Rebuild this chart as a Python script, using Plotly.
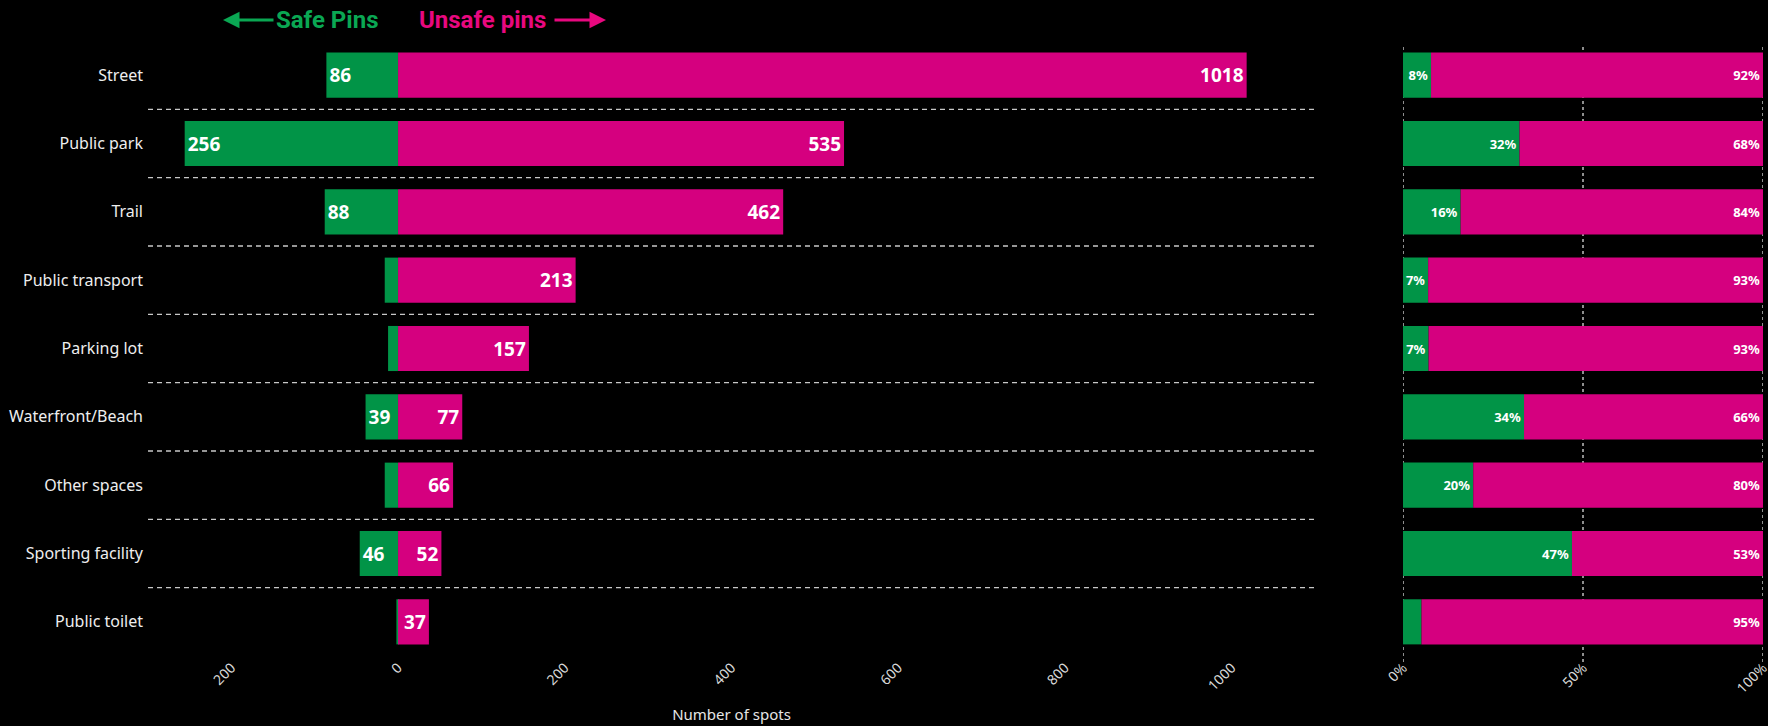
import plotly.graph_objects as go

categories = ["Street", "Public park", "Trail", "Public transport", "Parking lot",
              "Waterfront/Beach", "Other spaces", "Sporting facility", "Public toilet"]
safe = [86, 256, 88, 16, 12, 39, 16, 46, 2]
unsafe = [1018, 535, 462, 213, 157, 77, 66, 52, 37]
x_tickvals = [-200, 0, 200, 400, 600, 800, 1000]
x_ticktext = ["200", "0", "200", "400", "600", "800", "1000"]
pct_tickvals = [0, 50, 100]
pct_ticktext = ["0%", "50%", "100%"]

GREEN = "#019447"
PINK = "#D5007F"
GREEN_TXT = "#0AA753"
PINK_TXT = "#E8087F"
FONT = "Noto Sans"

safe_pct = [s / (s + u) * 100 for s, u in zip(safe, unsafe)]
unsafe_pct = [u / (s + u) * 100 for s, u in zip(safe, unsafe)]

fig = go.Figure()

fig.add_trace(go.Bar(
    y=categories, x=[-v for v in safe], orientation="h", marker=dict(color=GREEN, line_width=0),
    text=[str(v) if v >= 30 else "" for v in safe], textposition="inside", insidetextanchor="end",
    textangle=0, textfont=dict(family=FONT, size=19, color="white", weight="bold"),
    xaxis="x", yaxis="y", showlegend=False, hoverinfo="skip"))
fig.add_trace(go.Bar(
    y=categories, x=unsafe, orientation="h", marker=dict(color=PINK, line_width=0),
    text=[str(v) for v in unsafe], textposition="inside", insidetextanchor="end", textangle=0,
    textfont=dict(family=FONT, size=19, color="white", weight="bold"),
    xaxis="x", yaxis="y", showlegend=False, hoverinfo="skip"))

fig.add_trace(go.Bar(
    y=categories, x=safe_pct, orientation="h", marker=dict(color=GREEN, line_width=0),
    text=[f"{round(p)}%" if p >= 6 else "" for p in safe_pct], textposition="inside",
    insidetextanchor="end", textangle=0,
    textfont=dict(family=FONT, size=13, color="white", weight="bold"),
    xaxis="x2", yaxis="y2", showlegend=False, hoverinfo="skip"))
fig.add_trace(go.Bar(
    y=categories, x=unsafe_pct, orientation="h", marker=dict(color=PINK, line_width=0),
    text=[f"{round(p)}%" for p in unsafe_pct], textposition="inside", insidetextanchor="end",
    textangle=0, textfont=dict(family=FONT, size=13, color="white", weight="bold"),
    xaxis="x2", yaxis="y2", showlegend=False, hoverinfo="skip"))

# dashed separators between categories in the left panel
shapes = []
for i in range(len(categories) - 1):
    shapes.append(dict(type="line", xref="x", yref="y", x0=-300, x1=1100, y0=i + 0.5, y1=i + 0.5,
                       line=dict(color="#c8c8c8", width=1.3, dash="5px,4px"), layer="below"))

ML, MR, MT, MB = 148, 5, 41, 70
W, H = 1768, 726
pw, ph = W - ML - MR, H - MT - MB


def px(x):
    return (x - ML) / pw


def py(y):
    return (H - MB - y) / ph


# dotted vertical reference lines in the share panel, at the percentage ticks
for v in pct_tickvals:
    shapes.append(dict(type="line", xref="x2", yref="paper", x0=v, x1=v, y0=py(662), y1=py(46),
                       line=dict(color="#bdbdbd", width=1.5, dash="dot"), layer="below"))

annotations = [
    dict(text="Safe Pins", x=px(380), y=py(20), xref="paper", yref="paper", xanchor="right",
         yanchor="middle", showarrow=False,
         font=dict(family="Roboto", size=24, color=GREEN_TXT, weight="bold")),
    dict(text="Unsafe pins", x=px(417), y=py(20), xref="paper", yref="paper", xanchor="left",
         yanchor="middle", showarrow=False,
         font=dict(family="Roboto", size=24, color=PINK_TXT, weight="bold")),
    dict(text="", x=px(223), y=py(20), xref="paper", yref="paper", ax=52, ay=0,
         showarrow=True, arrowhead=2, arrowsize=1.1, arrowwidth=3, arrowcolor=GREEN_TXT),
    dict(text="", x=px(606), y=py(20), xref="paper", yref="paper", ax=-53, ay=0,
         showarrow=True, arrowhead=2, arrowsize=1.1, arrowwidth=3, arrowcolor=PINK_TXT),
]

fig.update_layout(
    width=W, height=H,
    paper_bgcolor="black", plot_bgcolor="black",
    margin=dict(l=ML, r=MR, t=MT, b=MB, autoexpand=False),
    barmode="relative", bargap=0.34,
    font=dict(family=FONT, color="#e6e6e6"),
    shapes=shapes, annotations=annotations,
    xaxis=dict(domain=[0, px(1315)], range=[-300, 1100], tickvals=x_tickvals, ticktext=x_ticktext,
               tickangle=-45, showgrid=False, zeroline=False, showline=False, automargin=False,
               tickfont=dict(size=14, color="#d8d8d8"),
               title=dict(text="Number of spots", font=dict(size=15, color="#e6e6e6"), standoff=16)),
    yaxis=dict(domain=[0, 1], autorange="reversed", showgrid=False, zeroline=False,
               automargin=False,
               tickfont=dict(size=16, color="#eeeeee"), ticks="", ticklabelstandoff=4),
    xaxis2=dict(domain=[px(1403), px(1763)], range=[0, 100], anchor="y2",
                tickvals=pct_tickvals, ticktext=pct_ticktext, tickangle=-45, automargin=False,
                showgrid=False, zeroline=False, showline=False, ticklabeloverflow="allow",
                tickfont=dict(size=14, color="#d8d8d8")),
    yaxis2=dict(domain=[0, 1], anchor="x2", autorange="reversed", showticklabels=False,
                showgrid=False, zeroline=False, matches="y", automargin=False),
)

fig.write_html("out.html")
